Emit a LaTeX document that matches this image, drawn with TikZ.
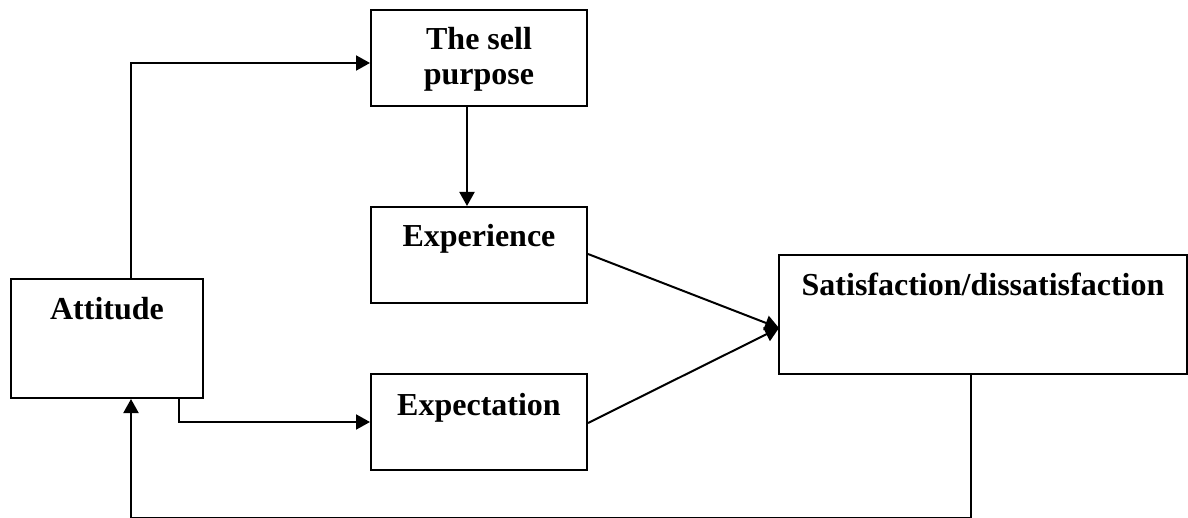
\documentclass[tikz,border=0pt]{standalone}
\usepackage{fontspec}
\setmainfont{Liberation Serif}
\usepackage{tikz}
\usetikzlibrary{arrows.meta, positioning, calc}

\begin{document}
\begin{tikzpicture}[x=0.5pt, y=-0.5pt,
    stage/.style={draw, line width=1pt, inner sep=0pt, align=center,
      font=\fontsize{16}{17.5}\selectfont\bfseries},
    flow/.style={line width=1pt, -{Triangle[length=7pt, width=7.5pt]}}]
  \useasboundingbox (0,0) rectangle (1188,518);

  % --- Boxes ---
  \node[stage, minimum width=96pt, text height=20.5pt, text depth=39pt]
    (attitude) at (107,338.5) {Attitude};
  \node[stage, minimum width=108pt, text height=37.5pt, text depth=10.5pt]
    (sell) at (479,58) {The sell\\purpose};
  \node[stage, minimum width=108pt, text height=20pt, text depth=28pt]
    (experience) at (479,255) {Experience};
  \node[stage, minimum width=108pt, text height=20.5pt, text depth=27.5pt]
    (expectation) at (479,422) {Expectation};
  \node[stage, minimum width=204pt, text height=20pt, text depth=39.5pt]
    (satisfaction) at (983,314.5) {Satisfaction/dissatisfaction};

  % --- Connectors ---
  \coordinate (upturn) at (131,63);
  \coordinate (meet) at (779,328);
  \coordinate (back) at (131,518.3);
  \draw[flow] ([xshift=12pt]attitude.north) |- (sell.west |- upturn);
  \draw[flow] ([xshift=-6pt]sell.south) -- ([xshift=-6pt]experience.north);
  \draw[flow] ([yshift=0.5pt]experience.east) -- (meet);
  \draw[flow] ([yshift=-0.5pt]expectation.east) -- (meet);
  \draw[flow] ([xshift=36pt]attitude.south) |- (expectation.west);
  \draw[flow] ([xshift=-6pt]satisfaction.south) |- (back)
    -- ([xshift=12pt]attitude.south);
\end{tikzpicture}
\end{document}
